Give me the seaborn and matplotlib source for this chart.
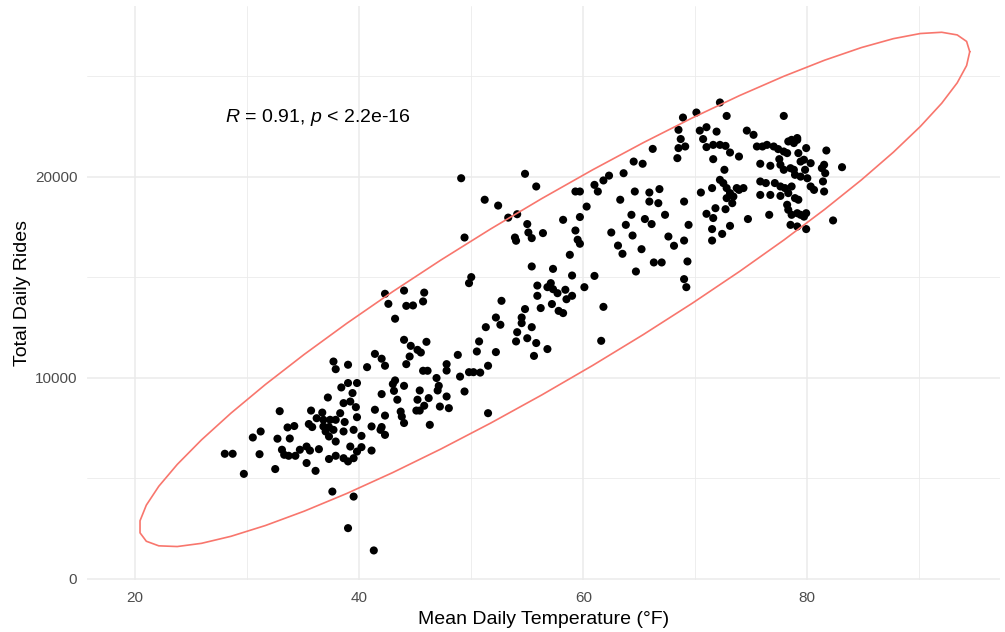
import numpy as np
import pandas as pd
import matplotlib
matplotlib.use("Agg")
import matplotlib.pyplot as plt
import seaborn as sns

# Daily mean temperature (F) vs total rides
temp_cold = [37.7, 37.9, 39.0, 39.0, 38.4, 39.8, 39.4, 37.2, 38.6, 39.2,
             39.7, 38.3, 35.7, 36.7, 32.9, 36.2, 36.8, 37.4, 37.9, 38.7,
             39.8, 35.5, 35.8, 36.8, 37.3, 37.7, 37.0, 38.6, 39.5, 37.3,
             37.9, 33.6, 34.2, 33.8, 32.7, 31.2, 30.5, 33.1, 33.3, 33.7,
             34.3, 34.7, 35.3, 35.6, 36.4, 35.3, 36.1, 32.5, 31.1, 29.7,
             28.0, 28.7, 37.3, 37.9, 38.6, 39.2, 39.8, 39.5, 39.0]
rides_cold = [10810, 10430, 10650, 9740, 9520, 9740, 9240, 9020, 8740, 8820,
              8540, 8240, 8370, 8270, 8340, 7990, 7910, 7910, 7910, 7800,
              8040, 7700, 7550, 7580, 7550, 7410, 7330, 7330, 7410, 7080,
              6830, 7530, 7600, 6980, 6970, 7330, 7030, 6420, 6170, 6120,
              6120, 6420, 6580, 6380, 6450, 5760, 5370, 5460, 6200, 5220,
              6220, 6220, 5960, 6120, 6000, 6580, 6330, 6000, 5840]

temp_cool = [49.8, 42.3, 42.6, 44.0, 45.8, 45.7, 44.8, 44.2, 43.2, 51.3,
             44.0, 44.6, 46.0, 45.2, 45.5, 44.5, 41.4, 42.0, 42.3, 40.7,
             44.2, 50.7, 50.5, 48.8, 47.8, 47.8, 45.7, 46.1, 49.0, 49.8,
             50.2, 50.8, 51.5, 46.9, 47.1, 47.0, 43.2, 43.0, 44.0, 43.1,
             45.4, 42.0, 43.4, 45.2, 46.2, 47.8, 49.4, 45.8, 45.1, 45.4,
             47.2, 48.0, 41.4, 42.3, 43.7, 43.8, 44.0, 41.1, 42.0, 46.3,
             51.5, 40.2, 41.9, 42.3, 40.2, 41.1, 37.6, 39.5, 39.0, 41.3]
rides_cool = [14710, 14180, 13680, 14340, 14240, 13800, 13600, 13580, 12940, 12520,
              11890, 11590, 11790, 11390, 11260, 11060, 11190, 10950, 10600, 10530,
              10680, 11810, 11310, 11140, 10680, 10360, 10350, 10350, 10060, 10280,
              10280, 10260, 10600, 9990, 9600, 9370, 9870, 9690, 9600, 9350,
              9370, 9190, 8910, 8910, 8990, 9070, 9320, 8610, 8370, 8370,
              8570, 8490, 8410, 8120, 8320, 8070, 7750, 7580, 7550, 7660,
              8240, 7110, 7410, 7160, 6550, 6380, 4340, 4090, 2520, 1410]

temp_mild = [49.1, 54.8, 55.8, 51.2, 52.4, 53.3, 54.1, 55.0, 55.1, 55.4,
             56.4, 53.9, 54.0, 49.4, 59.3, 59.7, 60.3, 58.2, 59.7, 59.3,
             59.5, 59.7, 58.8, 55.4, 57.3, 59.0, 50.0,
             55.9, 57.1, 56.8, 57.3, 57.7, 58.4, 55.9, 58.5, 59.0, 60.1,
             57.2, 56.2, 54.8, 52.7, 52.2, 57.8, 58.2, 54.5,
             52.6, 54.5, 55.4, 54.1, 54.0, 55.0, 55.8, 56.8, 55.6, 52.2]
rides_mild = [19930, 20150, 19520, 18860, 18570, 17970, 18140, 17650, 17230, 16950,
              17200, 16980, 16820, 16980, 19270, 19270, 18520, 17860, 18000, 17330,
              16870, 16670, 16120, 15540, 15420, 15090, 15010,
              14590, 14710, 14510, 14410, 14210, 14380, 14080, 13910, 14080, 14510,
              13670, 13470, 13420, 13830, 13000, 13330, 13220, 13000,
              12640, 12720, 12520, 12270, 11810, 11970, 11730, 11430, 11090, 11280]

temp_warm = [66.2, 64.5, 65.3, 63.6, 62.3, 61.8, 61.0, 61.3, 64.6, 65.9,
             66.8, 65.9, 66.7, 63.3, 64.3, 65.5, 63.8, 66.1, 62.5, 64.4,
             63.1, 63.5, 65.2, 66.3, 67.0, 64.7, 69.3, 69.0, 69.2, 61.0, 61.8, 61.6]
rides_warm = [21390, 20760, 20650, 20180, 20060, 19820, 19600, 19270, 19270, 19220,
              19390, 18770, 18690, 18860, 18110, 17900, 17610, 17650, 17230, 17080,
              16580, 16170, 16400, 15740, 15740, 15290, 15790, 14910, 14510, 15070, 13530, 11840]

temp_hot = [72.2, 70.1, 68.9, 72.8, 77.9, 68.5, 70.4, 71.0, 71.9, 74.6,
            75.2, 68.7, 70.7, 68.5, 69.1, 68.4, 71.0, 71.6, 72.2, 72.7,
            73.1, 73.9, 71.6, 72.6, 75.5, 76.0, 76.4, 77.0, 77.4, 77.9,
            78.3, 78.6, 79.1, 78.2, 79.2, 79.9, 81.7, 75.8, 76.7, 77.5,
            77.6, 77.9, 78.5, 78.8, 79.4, 79.7, 79.8, 81.5, 81.3, 83.1,
            78.9, 79.4, 80.0, 80.3, 80.6, 75.8, 76.3, 77.1, 77.6, 78.0,
            78.6, 75.8, 76.7, 77.6, 78.3, 78.9, 79.2, 81.4, 81.5, 78.2,
            78.3, 78.6, 79.1, 79.4, 79.9, 79.7, 76.6, 74.7, 78.5, 79.1,
            79.9, 82.3, 72.2, 72.5, 72.8, 73.1, 73.4, 73.9, 74.3, 73.7,
            72.8, 73.3, 71.5, 70.5, 69.0, 67.3, 71.8, 71.0, 71.6, 72.7,
            69.4, 71.5, 72.4, 73.1, 67.6, 68.1, 69.0, 71.5,
            80.3, 81.6, 78.8, 79.1]
rides_hot = [23700, 23200, 22950, 23030, 23030, 22340, 22300, 22470, 22250, 22300,
             22090, 21880, 21880, 21430, 21510, 20930, 21480, 21590, 21590, 21540,
             21210, 21010, 20880, 20350, 21510, 21510, 21590, 21510, 21380, 21260,
             21760, 21840, 21840, 21180, 21180, 21430, 21310, 20650, 20550, 20880,
             20600, 20350, 20430, 20350, 20760, 20850, 20350, 20600, 20430, 20480,
             20100, 20010, 19930, 19520, 19350, 19770, 19690, 19690, 19520, 19440,
             19520, 19100, 19100, 19050, 19190, 18940, 18860, 19770, 19270, 18610,
             18360, 18110, 18190, 18110, 18190, 18020, 18110, 17900, 17610, 17530,
             17400, 17830, 19850, 19690, 19440, 19190, 19020, 19350, 19440, 19440,
             18940, 18690, 19440, 19220, 18770, 18110, 18440, 18160, 17950, 18390,
             17610, 17400, 17160, 17560, 17030, 16570, 16830, 16830,
             20680, 20180, 21680, 21930]

x_ticks = [20, 40, 60, 80]
y_ticks = [0, 10000, 20000]
label_text = r"$\mathit{R}$ = 0.91, $\mathit{p}$ < 2.2e-16"

df = pd.DataFrame({
    "temp": temp_cold + temp_cool + temp_mild + temp_warm + temp_hot,
    "rides": rides_cold + rides_cool + rides_mild + rides_warm + rides_hot,
})


def cov_trob(x, nu=5, maxit=25, tol=0.01):
    # multivariate t estimate of location / scatter (as ggplot's stat_ellipse uses)
    n, p = x.shape
    loc = x.mean(axis=0)
    w = np.ones(n)
    for _ in range(maxit):
        w0 = w
        X = x - loc
        S = (X * (w / w.sum())[:, None]).T @ X
        Q = np.einsum("ij,jk,ik->i", X, np.linalg.inv(S), X)
        w = (nu + p) / (nu + Q)
        loc = (w[:, None] * x).sum(axis=0) / w.sum()
        if np.all(np.abs(w - w0) < tol):
            break
    cov = (X * w[:, None]).T @ X / n
    return loc, cov


# 95% ellipse, 51 segments
xy = df[["temp", "rides"]].to_numpy(dtype=float)
center, shape = cov_trob(xy)
dfd = len(df) - 1
q = (dfd / 2) * (0.05 ** (-2 / dfd) - 1)  # qf(0.95, 2, dfd)
radius = np.sqrt(2 * q)
ang = np.linspace(0, 2 * np.pi, 52)
circle = np.column_stack([np.cos(ang), np.sin(ang)])
ell = center + radius * circle @ np.linalg.cholesky(shape).T
ell_df = pd.DataFrame({"temp": ell[:, 0], "rides": ell[:, 1]})

sns.set_theme(style="whitegrid")
plt.rcParams["font.family"] = ["Liberation Sans", "DejaVu Sans"]
plt.rcParams["mathtext.fontset"] = "custom"
plt.rcParams["mathtext.rm"] = "Liberation Sans"
plt.rcParams["mathtext.it"] = "Liberation Sans:italic"

fig = plt.figure(figsize=(10.05, 6.32), dpi=100, facecolor="white")
ax = fig.add_axes([0.0866, 0.0823, 0.9084, 0.9082])

sns.scatterplot(data=df, x="temp", y="rides", color="black", s=34,
                edgecolor="none", ax=ax, zorder=3)
sns.lineplot(data=ell_df, x="temp", y="rides", sort=False, estimator=None,
             color="#F8766D", linewidth=1.2, ax=ax, zorder=4)

ax.set_xlim(15.7, 97.2)
ax.set_ylim(-60, 28500)
ax.set_xticks(x_ticks)
ax.set_yticks(y_ticks)
ax.set_xticks([30, 50, 70, 90], minor=True)
ax.set_yticks([5000, 15000, 25000], minor=True)
ax.set_yticklabels([str(v) for v in y_ticks])
ax.grid(which="major", color="#EBEBEB", linewidth=1.1)
ax.grid(which="minor", color="#EBEBEB", linewidth=0.6)
ax.set_axisbelow(True)
for s in ax.spines.values():
    s.set_visible(False)
ax.tick_params(which="both", length=0, labelsize=11, labelcolor="#4D4D4D")
ax.tick_params(axis="x", pad=8)
ax.tick_params(axis="y", pad=7)
ax.set_facecolor("white")

ax.set_xlabel("Mean Daily Temperature (°F)", fontsize=14, color="black", labelpad=4)
ax.set_ylabel("Total Daily Rides", fontsize=14, color="black", labelpad=3)

ax.text(28.0, 22950, label_text, fontsize=14, color="black", ha="left", va="center")

fig.savefig("out.png", dpi=100, facecolor="white")
